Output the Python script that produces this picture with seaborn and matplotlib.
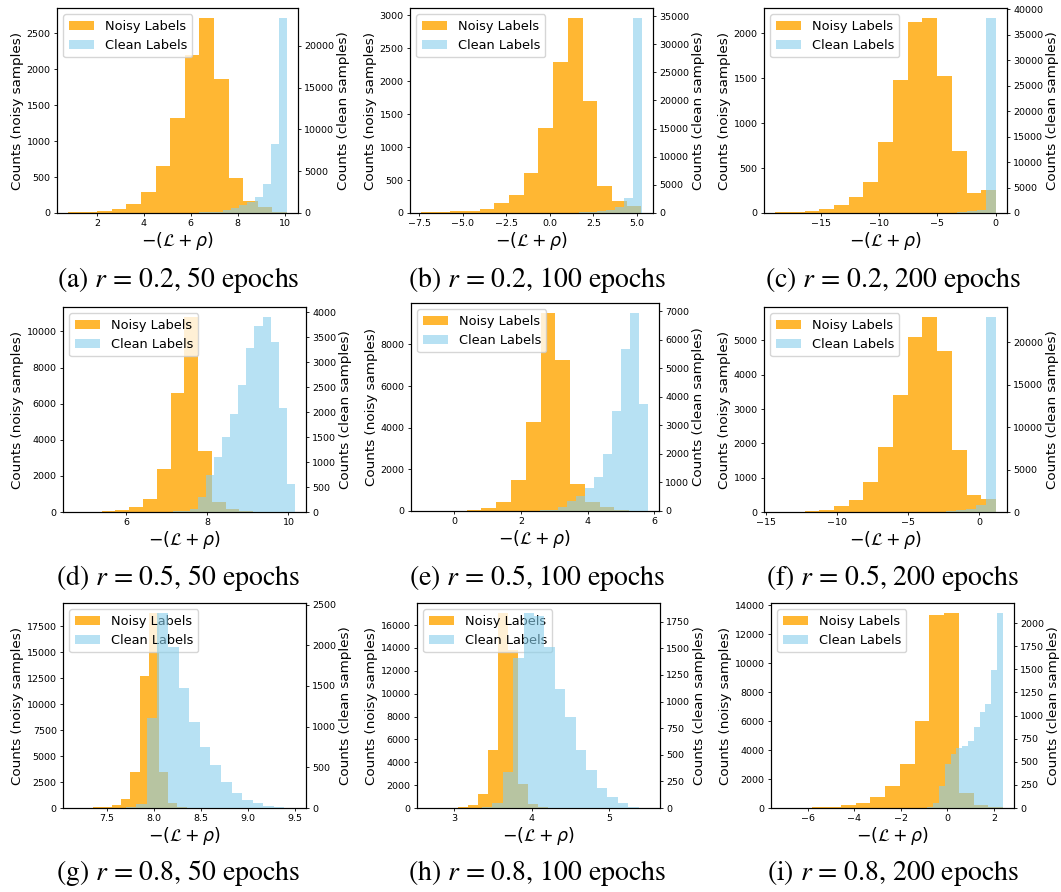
import numpy as np
import pandas as pd
import matplotlib
matplotlib.use("Agg")
import matplotlib.pyplot as plt
from matplotlib.patches import Patch
from matplotlib.ticker import MaxNLocator
import seaborn as sns

# ---------------- data ----------------
captions = ["(a) $r$ = 0.2, 50 epochs", "(b) $r$ = 0.2, 100 epochs", "(c) $r$ = 0.2, 200 epochs",
            "(d) $r$ = 0.5, 50 epochs", "(e) $r$ = 0.5, 100 epochs", "(f) $r$ = 0.5, 200 epochs",
            "(g) $r$ = 0.8, 50 epochs", "(h) $r$ = 0.8, 100 epochs", "(i) $r$ = 0.8, 200 epochs"]

# histogram ranges (lo, hi) and per-bin counts
noisy_a_range = (0.77, 10.1)
noisy_a = [10, 15, 28, 55, 125, 288, 655, 1325, 2193, 2714, 1863, 483, 163, 84, 20]
clean_a_range = (3.3, 10.1)
clean_a = [3, 4, 6, 8, 12, 18, 25, 35, 50, 70, 80, 160, 320, 640, 960, 1360, 1920, 3440, 8240, 23360]

noisy_b_range = (-7.39, 5.25)
noisy_b = [10, 15, 25, 35, 56, 147, 270, 610, 1295, 2290, 2965, 1695, 406, 178, 100]
clean_b_range = (-5.11, 5.29)
clean_b = [1, 2, 3, 4, 5, 6, 8, 10, 15, 20, 30, 45, 70, 120, 200, 350, 600, 1000, 2700, 34700]

noisy_c_range = (-18.95, 0.03)
noisy_c = [7, 8, 18, 40, 90, 175, 345, 785, 1483, 2123, 2171, 1528, 688, 223, 260]
clean_c_range = (-16.57, 0.03)
clean_c = [1, 1, 1, 1, 2, 2, 3, 4, 5, 6, 8, 10, 15, 25, 40, 80, 150, 300, 650, 38300]

noisy_d_range = (4.71, 10.15)
noisy_d = [20, 20, 55, 110, 280, 720, 2370, 6570, 10815, 3400, 555, 165, 35, 10, 5, 3]
clean_d_range = (6.16, 10.16)
clean_d = [1, 1, 2, 3, 6, 12, 27, 67, 293, 733, 1107, 1507, 1953, 2540, 3287, 3720, 3907, 3407, 2087, 553]

noisy_e_range = (-0.96, 5.69)
noisy_e = [1, 3, 10, 60, 160, 450, 1500, 4270, 9510, 7270, 1310, 415, 175, 50, 15]
clean_e_range = (0.4, 5.8)
clean_e = [0, 0, 1, 1, 2, 3, 5, 10, 23, 47, 140, 360, 535, 814, 1209, 2000, 3512, 5663, 6942, 3767]

noisy_f_range = (-14.35, 1.19)
noisy_f = [10, 10, 20, 58, 165, 350, 887, 1880, 3420, 5090, 5690, 4690, 1800, 487, 390]
clean_f_range = (-12.81, 1.19)
clean_f = [0, 0, 1, 1, 1, 1, 1, 2, 2, 3, 4, 6, 10, 20, 40, 80, 200, 400, 790, 23030]

noisy_g_range = (7.15, 8.65)
noisy_g = [20, 30, 50, 100, 320, 870, 3440, 12750, 18790, 3440, 480, 60, 15, 5, 2]
clean_g_range = (7.25, 9.5)
clean_g = [1, 1, 2, 5, 15, 50, 1107, 2400, 1975, 1479, 1054, 748, 525, 318, 186, 103, 58, 21, 8, 4]

noisy_h_range = (2.66, 4.595)
noisy_h = [15, 20, 35, 70, 290, 1230, 5050, 17080, 13810, 2100, 380, 60, 20, 5, 2]
clean_h_range = (2.815, 5.515)
clean_h = [1, 1, 1, 3, 10, 47, 335, 1411, 1834, 1803, 1514, 1119, 853, 549, 360, 188, 103, 47, 10, 3]

noisy_i_range = (-7.1, 2.38)
noisy_i = [15, 20, 50, 100, 180, 350, 760, 1540, 3060, 6030, 13350, 13490, 1035, 230, 60]
clean_i_range = (-2.62, 2.38)
clean_i = [0, 1, 1, 1, 2, 3, 5, 11, 54, 234, 479, 584, 649, 667, 721, 872, 1041, 1128, 1492, 2112]

noisy_all = [(noisy_a_range, noisy_a), (noisy_b_range, noisy_b), (noisy_c_range, noisy_c),
             (noisy_d_range, noisy_d), (noisy_e_range, noisy_e), (noisy_f_range, noisy_f),
             (noisy_g_range, noisy_g), (noisy_h_range, noisy_h), (noisy_i_range, noisy_i)]
clean_all = [(clean_a_range, clean_a), (clean_b_range, clean_b), (clean_c_range, clean_c),
             (clean_d_range, clean_d), (clean_e_range, clean_e), (clean_f_range, clean_f),
             (clean_g_range, clean_g), (clean_h_range, clean_h), (clean_i_range, clean_i)]

# ---------------- layout ----------------
W, H = 1061, 892
# axes boxes in pixels: left, top, right, bottom
boxes = [(57, 8, 298, 213), (410, 8, 653, 213), (764, 8, 1007, 213),
         (63, 307, 306, 512), (411, 303, 659, 511), (764, 307, 1007, 512),
         (63, 603, 306, 808), (417, 603, 660, 808), (771, 603, 1014, 808)]
xtick_bins = [6, 6, 6, 5, 6, 6, 6, 6, 6]
cap_x = [178, 537, 893]
cap_y = [280, 578, 873]

plt.rcParams["font.family"] = ["DejaVu Sans"]
plt.rcParams["xtick.major.size"] = 2.5
plt.rcParams["ytick.major.size"] = 2.5
plt.rcParams["xtick.major.width"] = 0.6
plt.rcParams["ytick.major.width"] = 0.6
plt.rcParams["axes.linewidth"] = 0.8

TICK = 6.8
YLAB = 9.7
LEG = 9.3
XLAB = 12.5

fig = plt.figure(figsize=(W / 100, H / 100), dpi=100)

NOISY_C = "orange"
CLEAN_C = "skyblue"


def hist_frame(rng, counts):
    lo, hi = rng
    edges = np.linspace(lo, hi, len(counts) + 1)
    cent = (edges[:-1] + edges[1:]) / 2
    return pd.DataFrame({"v": cent, "w": np.asarray(counts, dtype=float)}), list(edges)


for idx in range(9):
    l, t, r, b = boxes[idx]
    ax = fig.add_axes([l / W, (H - b) / H, (r - l) / W, (b - t) / H])
    ax2 = ax.twinx()

    dfn, nedges = hist_frame(*noisy_all[idx])
    sns.histplot(data=dfn, x="v", weights="w", bins=nedges, ax=ax, color=NOISY_C,
                 alpha=0.8, linewidth=0)

    dfc, cedges = hist_frame(*clean_all[idx])
    sns.histplot(data=dfc, x="v", weights="w", bins=cedges, ax=ax2, color=CLEAN_C,
                 alpha=0.6, linewidth=0)

    ax.xaxis.set_major_locator(MaxNLocator(nbins=xtick_bins[idx], steps=[1, 2, 2.5, 5, 10]))
    ax.set_xlabel(r"$-(\mathcal{L}+\rho)$", fontsize=XLAB, labelpad=1)
    ax.set_ylabel("Counts (noisy samples)", fontsize=YLAB, labelpad=2)
    ax2.set_ylabel("Counts (clean samples)", fontsize=YLAB, labelpad=2)
    ax.tick_params(labelsize=TICK, pad=2)
    ax2.tick_params(labelsize=TICK, pad=2)

    handles = [Patch(facecolor=NOISY_C, alpha=0.8), Patch(facecolor=CLEAN_C, alpha=0.6)]
    ax.legend(handles, ["Noisy Labels", "Clean Labels"], loc="upper left",
              fontsize=LEG, framealpha=0.8, borderaxespad=0.5)

    fig.text(cap_x[idx % 3] / W, 1 - cap_y[idx // 3] / H, captions[idx],
             ha="center", va="center", fontsize=20, family="STIXGeneral",
             math_fontfamily="stix")

fig.savefig("out.png", dpi=100)
